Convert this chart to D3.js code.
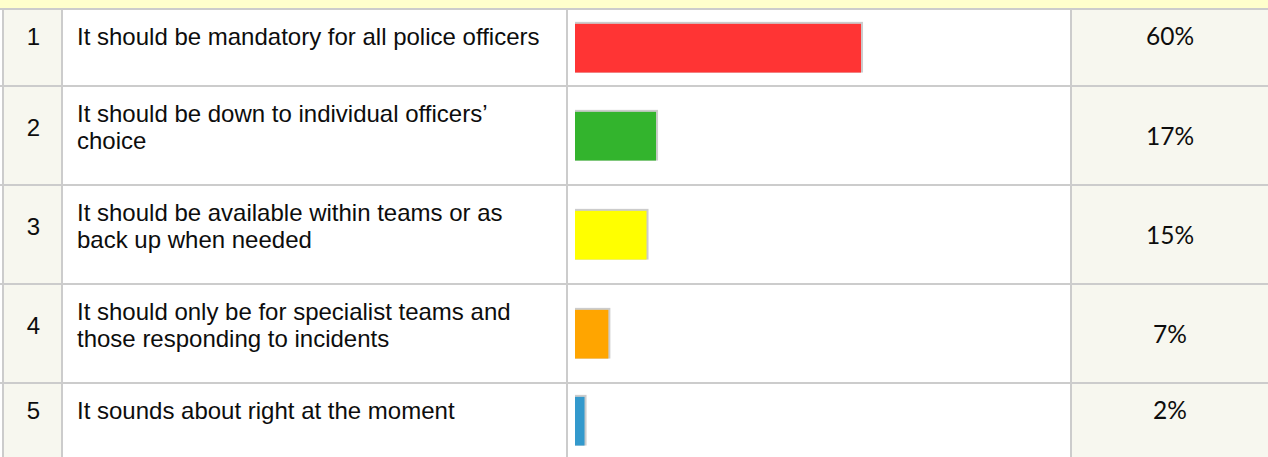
<!DOCTYPE html>
<html>
<head>
<meta charset="utf-8">
<script src="https://cdn.jsdelivr.net/npm/d3@7"></script>
<style>
  body { margin: 0; background: #fff; }
  svg { display: block; }
</style>
</head>
<body>
<div id="chart"></div>
<script>
// ---------- data ----------
const ranks = [1, 2, 3, 4, 5];
const answers = [
  "It should be mandatory for all police officers",
  "It should be down to individual officers’\nchoice",
  "It should be available within teams or as\nback up when needed",
  "It should only be for specialist teams and\nthose responding to incidents",
  "It sounds about right at the moment"
];
const shares = [60, 17, 15, 7, 2];
const barColors = ["#ff3434", "#33b42d", "#ffff00", "#ffa500", "#3399cc"];

const rows = ranks.map((r, i) => ({
  rank: r,
  lines: answers[i].split("\n"),
  share: shares[i],
  color: barColors[i]
}));

// ---------- layout ----------
const W = 1268, H = 457;
const grid = "#cccccc";
const shade = "#f7f7ef";
const rowEdges = [9, 86, 185, 284, 383, 462];   // border centre lines
const colEdges = [3, 62, 567, 1071, 1268];
const lineH = 27;
const barH = 48.7;

const svg = d3.select("#chart").append("svg")
  .attr("width", W)
  .attr("height", H);

const x = d3.scaleLinear()
  .domain([0, 100])
  .range([575, 575 + 476.7]);

// background bands
svg.append("rect")
  .attr("x", 0).attr("y", 0).attr("width", W).attr("height", 8)
  .attr("fill", "#ffffcc");

[0, 3].forEach(c => {
  svg.append("rect")
    .attr("x", colEdges[c]).attr("y", rowEdges[0])
    .attr("width", colEdges[c + 1] - colEdges[c])
    .attr("height", H - rowEdges[0])
    .attr("fill", shade);
});

// grid lines
svg.selectAll("line.h")
  .data(rowEdges.slice(0, 5))
  .join("line")
  .attr("class", "h")
  .attr("x1", 0).attr("x2", W)
  .attr("y1", d => d).attr("y2", d => d)
  .attr("stroke", grid).attr("stroke-width", 2);

svg.selectAll("line.v")
  .data(colEdges.slice(0, 4))
  .join("line")
  .attr("class", "v")
  .attr("x1", d => d).attr("x2", d => d)
  .attr("y1", rowEdges[0]).attr("y2", H)
  .attr("stroke", grid).attr("stroke-width", 2);

// rows
const cellTop = i => rowEdges[i] + 1;
const cellMid = i => (cellTop(i) + Math.min(rowEdges[i + 1] - 1, H)) / 2;

const g = svg.selectAll("g.row")
  .data(rows)
  .join("g")
  .attr("class", "row");

g.append("text")
  .attr("x", (colEdges[0] + colEdges[1]) / 2 + 1)
  .attr("y", (d, i) => cellTop(i) + 35 + (d.lines.length - 1) * lineH / 2)
  .attr("text-anchor", "middle")
  .attr("font-family", "Liberation Sans, Arial, sans-serif")
  .attr("font-size", 24)
  .attr("fill", "#0d0d0d")
  .text(d => d.rank);

g.append("text")
  .attr("font-family", "Liberation Sans, Arial, sans-serif")
  .attr("font-size", 24)
  .attr("fill", "#0d0d0d")
  .each(function (d, i) {
    d3.select(this).selectAll("tspan")
      .data(d.lines)
      .join("tspan")
      .attr("x", 77)
      .attr("y", (l, k) => cellTop(i) + 35 + k * lineH)
      .text(l => l);
  });

// bars: grey shadow behind, colour on top
g.append("rect")
  .attr("x", x(0))
  .attr("y", (d, i) => cellMid(i) - barH / 2 + 0.7 - 2)
  .attr("width", d => x(d.share) - x(0) + 2)
  .attr("height", barH + 2)
  .attr("fill", grid);

g.append("rect")
  .attr("x", x(0))
  .attr("y", (d, i) => cellMid(i) - barH / 2 + 0.7)
  .attr("width", d => x(d.share) - x(0))
  .attr("height", barH)
  .attr("fill", d => d.color);

g.append("text")
  .attr("x", 1170)
  .attr("y", (d, i) => d.lines.length === 1 ? cellTop(i) + 35 : cellMid(i) + 9)
  .attr("text-anchor", "middle")
  .attr("font-family", "Lato, sans-serif")
  .attr("font-size", 24.5)
  .attr("fill", "#0d0d0d")
  .text(d => d.share + "%");
</script>
</body>
</html>
